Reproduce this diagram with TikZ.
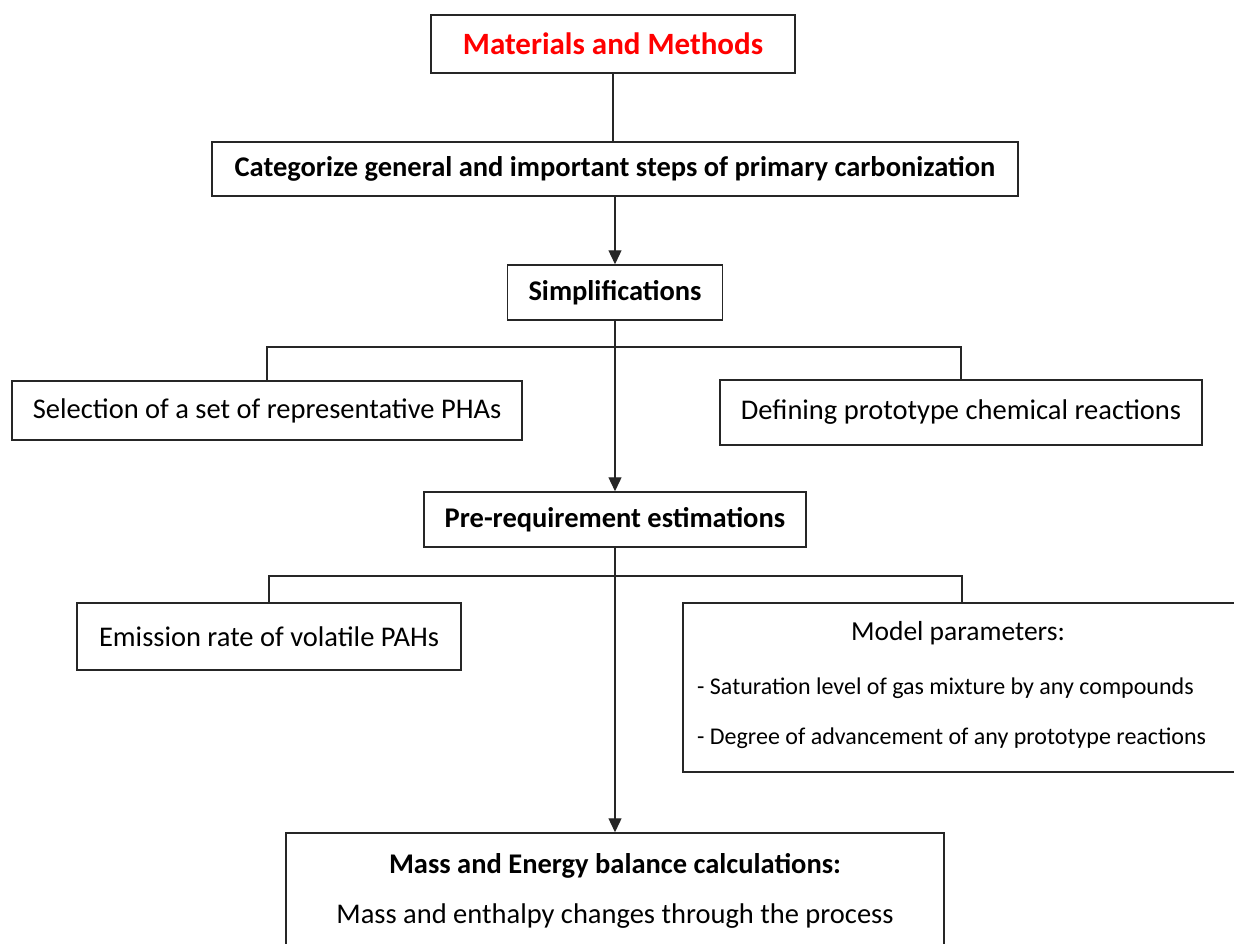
\documentclass[tikz,border=0pt]{standalone}
\usepackage{fontspec}
\setmainfont{Carlito}
\usetikzlibrary{arrows.meta}
\begin{document}
\begin{tikzpicture}[x=1pt,y=-1pt,
  box/.style={draw=black!85, line width=1.5pt, inner sep=0pt, align=center,
              font=\fontsize{28.5}{34}\selectfont},
  bbox/.style={box, font=\fontsize{28.5}{34}\selectfont\bfseries},
  conn/.style={draw=black!85, line width=1.3pt},
  arr/.style={conn, -{Triangle[width=13pt,length=14pt]}},
  txt/.style={inner sep=0pt}
]
\useasboundingbox (0,0) rectangle (1234,943);
\clip (0,0) rectangle (1234,943);
\fill[white] (0,0) rectangle (1234,943);

\node[box, minimum width=364pt, minimum height=58pt, text=red,
      font=\fontsize{31}{36}\selectfont\bfseries] (mm) at (613,44) {Materials and Methods};
\node[bbox, minimum width=806pt, minimum height=54pt] (cat) at (615,169)
  {Categorize general and important steps of primary carbonization};
\node[bbox, minimum width=215pt, minimum height=55pt] (simp) at (615,292.5) {Simplifications};
\node[box, minimum width=510pt, minimum height=59pt] (sel) at (267,410.5)
  {Selection of a set of representative PHAs};
\node[box, minimum width=482pt, minimum height=65pt] (def) at (961,412.5)
  {Defining prototype chemical reactions};
\node[bbox, minimum width=382pt, minimum height=55pt] (pre) at (615,519.5)
  {Pre-requirement estimations};
\node[box, minimum width=384pt, minimum height=67pt] (emi) at (269,636.5)
  {Emission rate of volatile PAHs};
\node[box, minimum width=558pt, minimum height=169pt] (model) at (962,687.5) {};
\node[txt, font=\fontsize{27.5}{33}\selectfont] (mt1) at (958,633) {Model parameters:};
\node[txt, anchor=west, font=\fontsize{24}{28}\selectfont] (mt2) at (697,688)
  {- Saturation level of gas mixture by any compounds};
\node[txt, anchor=west, font=\fontsize{24}{28}\selectfont] (mt3) at (697,738)
  {- Degree of advancement of any prototype reactions};
\node[box, minimum width=658pt, minimum height=134pt] (mass) at (615,900) {};
\node[txt, font=\fontsize{28.5}{34}\selectfont\bfseries] (ms1) at (615,866)
  {Mass and Energy balance calculations:};
\node[txt, font=\fontsize{28.5}{34}\selectfont] (ms2) at (615,916)
  {Mass and enthalpy changes through the process};

\coordinate (j1) at (615,347);
\coordinate (j2) at (615,576);

\draw[conn] (mm.south) -- (mm.south |- cat.north);
\draw[arr] (cat.south) -- (simp.north);
\draw[arr] (simp.south) -- (pre.north);
\draw[conn] (sel.north) |- (j1) -| (def.north);
\draw[arr] (pre.south) -- (mass.north);
\draw[conn] (emi.north) |- (j2) -| (model.north);
\end{tikzpicture}
\end{document}
